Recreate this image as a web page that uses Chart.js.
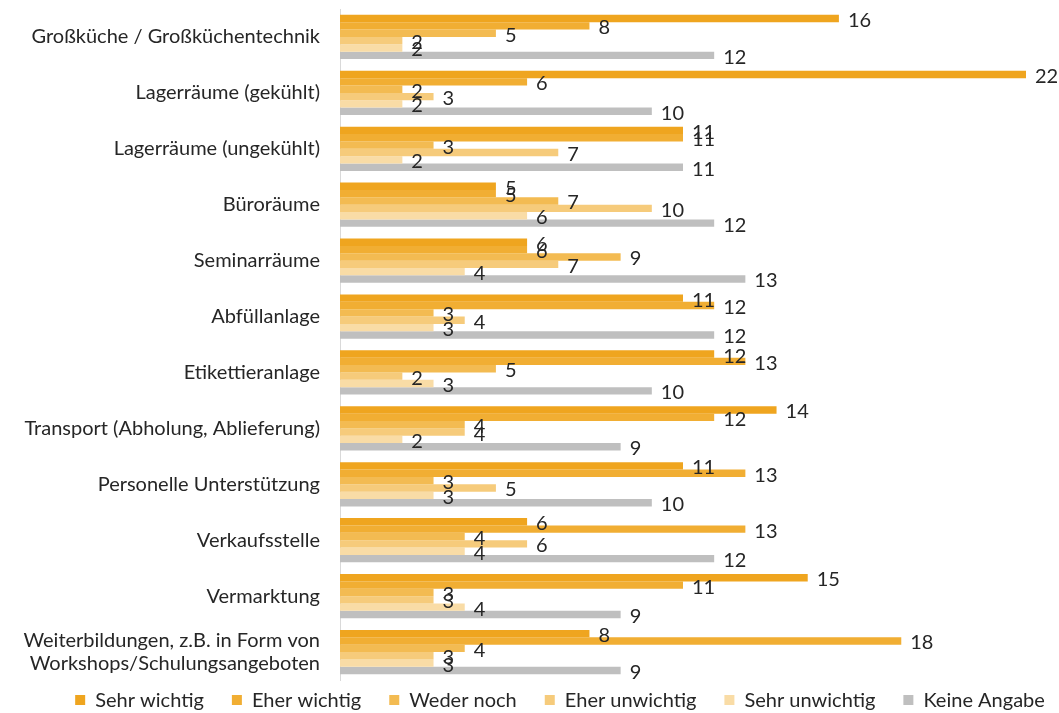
<!DOCTYPE html>
<html>
<head>
<meta charset="utf-8">
<script src="https://cdn.jsdelivr.net/npm/chart.js@4"></script>
<style>
html,body{margin:0;padding:0;background:#fff;}
#wrap{width:1059px;height:713px;}
</style>
</head>
<body>
<div id="wrap"><canvas id="c" width="1059" height="713"></canvas></div>
<script>
const categories = [
  'Großküche / Großküchentechnik',
  'Lagerräume (gekühlt)',
  'Lagerräume (ungekühlt)',
  'Büroräume',
  'Seminarräume',
  'Abfüllanlage',
  'Etikettieranlage',
  'Transport (Abholung, Ablieferung)',
  'Personelle Unterstützung',
  'Verkaufsstelle',
  'Vermarktung',
  ['Weiterbildungen, z.B. in Form von', 'Workshops/Schulungsangeboten']
];
const seriesNames = ['Sehr wichtig', 'Eher wichtig', 'Weder noch', 'Eher unwichtig', 'Sehr unwichtig', 'Keine Angabe'];
const sehrWichtig   = [16, 22, 11, 5, 6, 11, 12, 14, 11, 6, 15, 8];
const eherWichtig   = [8, 6, 11, 5, 6, 12, 13, 12, 13, 13, 11, 18];
const wederNoch     = [5, 2, 3, 7, 9, 3, 5, 4, 3, 4, 3, 4];
const eherUnwichtig = [2, 3, 7, 10, 7, 4, 2, 4, 5, 6, 3, 3];
const sehrUnwichtig = [2, 2, 2, 6, 4, 3, 3, 2, 3, 4, 4, 3];
const keineAngabe   = [12, 10, 11, 12, 13, 12, 10, 9, 10, 12, 9, 9];

const seriesValues = [sehrWichtig, eherWichtig, wederNoch, eherUnwichtig, sehrUnwichtig, keineAngabe];
const colors = ['#EFA51F', '#F1AE33', '#F3BB52', '#F6CB7B', '#F9DCA6', '#BFBFBF'];
const FONT = 'Lato, "Open Sans", sans-serif';
const TEXT = '#262626';

const valueLabels = {
  id: 'valueLabels',
  afterDatasetsDraw(chart) {
    const ctx = chart.ctx;
    ctx.save();
    ctx.font = '20px ' + FONT;
    ctx.fillStyle = TEXT;
    ctx.textAlign = 'left';
    ctx.textBaseline = 'middle';
    chart.data.datasets.forEach((ds, di) => {
      const meta = chart.getDatasetMeta(di);
      meta.data.forEach((el, i) => {
        ctx.fillText(String(ds.data[i]), el.x + 9, el.y + 2);
      });
    });
    ctx.restore();
  }
};

const bottomLegend = {
  id: 'bottomLegend',
  afterDraw(chart) {
    const ctx = chart.ctx;
    ctx.save();
    ctx.font = '20px ' + FONT;
    ctx.textBaseline = 'middle';
    ctx.textAlign = 'left';
    const box = 10, boxGap = 10, itemGap = 28;
    const items = chart.data.datasets.map(ds => ({ text: ds.label, color: ds.backgroundColor, w: ctx.measureText(ds.label).width }));
    const total = items.reduce((s, it) => s + box + boxGap + it.w, 0) + itemGap * (items.length - 1);
    let x = 560 - total / 2;
    const y = 700;
    items.forEach(it => {
      ctx.fillStyle = it.color;
      ctx.fillRect(x, y - box / 2, box, box);
      ctx.fillStyle = TEXT;
      ctx.fillText(it.text, x + box + boxGap, y + 1);
      x += box + boxGap + it.w + itemGap;
    });
    ctx.restore();
  }
};

new Chart(document.getElementById('c'), {
  type: 'bar',
  data: {
    labels: categories,
    datasets: seriesNames.map((n, i) => ({
      label: n,
      data: seriesValues[i],
      backgroundColor: colors[i],
      borderWidth: 0,
      categoryPercentage: 0.79,
      barPercentage: 1.0
    }))
  },
  options: {
    indexAxis: 'y',
    responsive: false,
    animation: false,
    layout: { padding: { top: 9, right: 33, left: 0, bottom: 33 } },
    scales: {
      x: { display: false, min: 0, max: 22 },
      y: {
        grid: { display: false, drawTicks: false },
        border: { display: true, color: '#D9D9D9', width: 1 },
        ticks: { color: TEXT, font: { family: FONT, size: 20, lineHeight: 1.15 }, padding: 20, autoSkip: false },
        afterFit(scale) { scale.width = 340; scale.paddingTop = 0; scale.paddingBottom = 0; }
      }
    },
    plugins: {
      legend: { display: false },
      tooltip: { enabled: false }
    }
  },
  plugins: [valueLabels, bottomLegend]
});
</script>
</body>
</html>
